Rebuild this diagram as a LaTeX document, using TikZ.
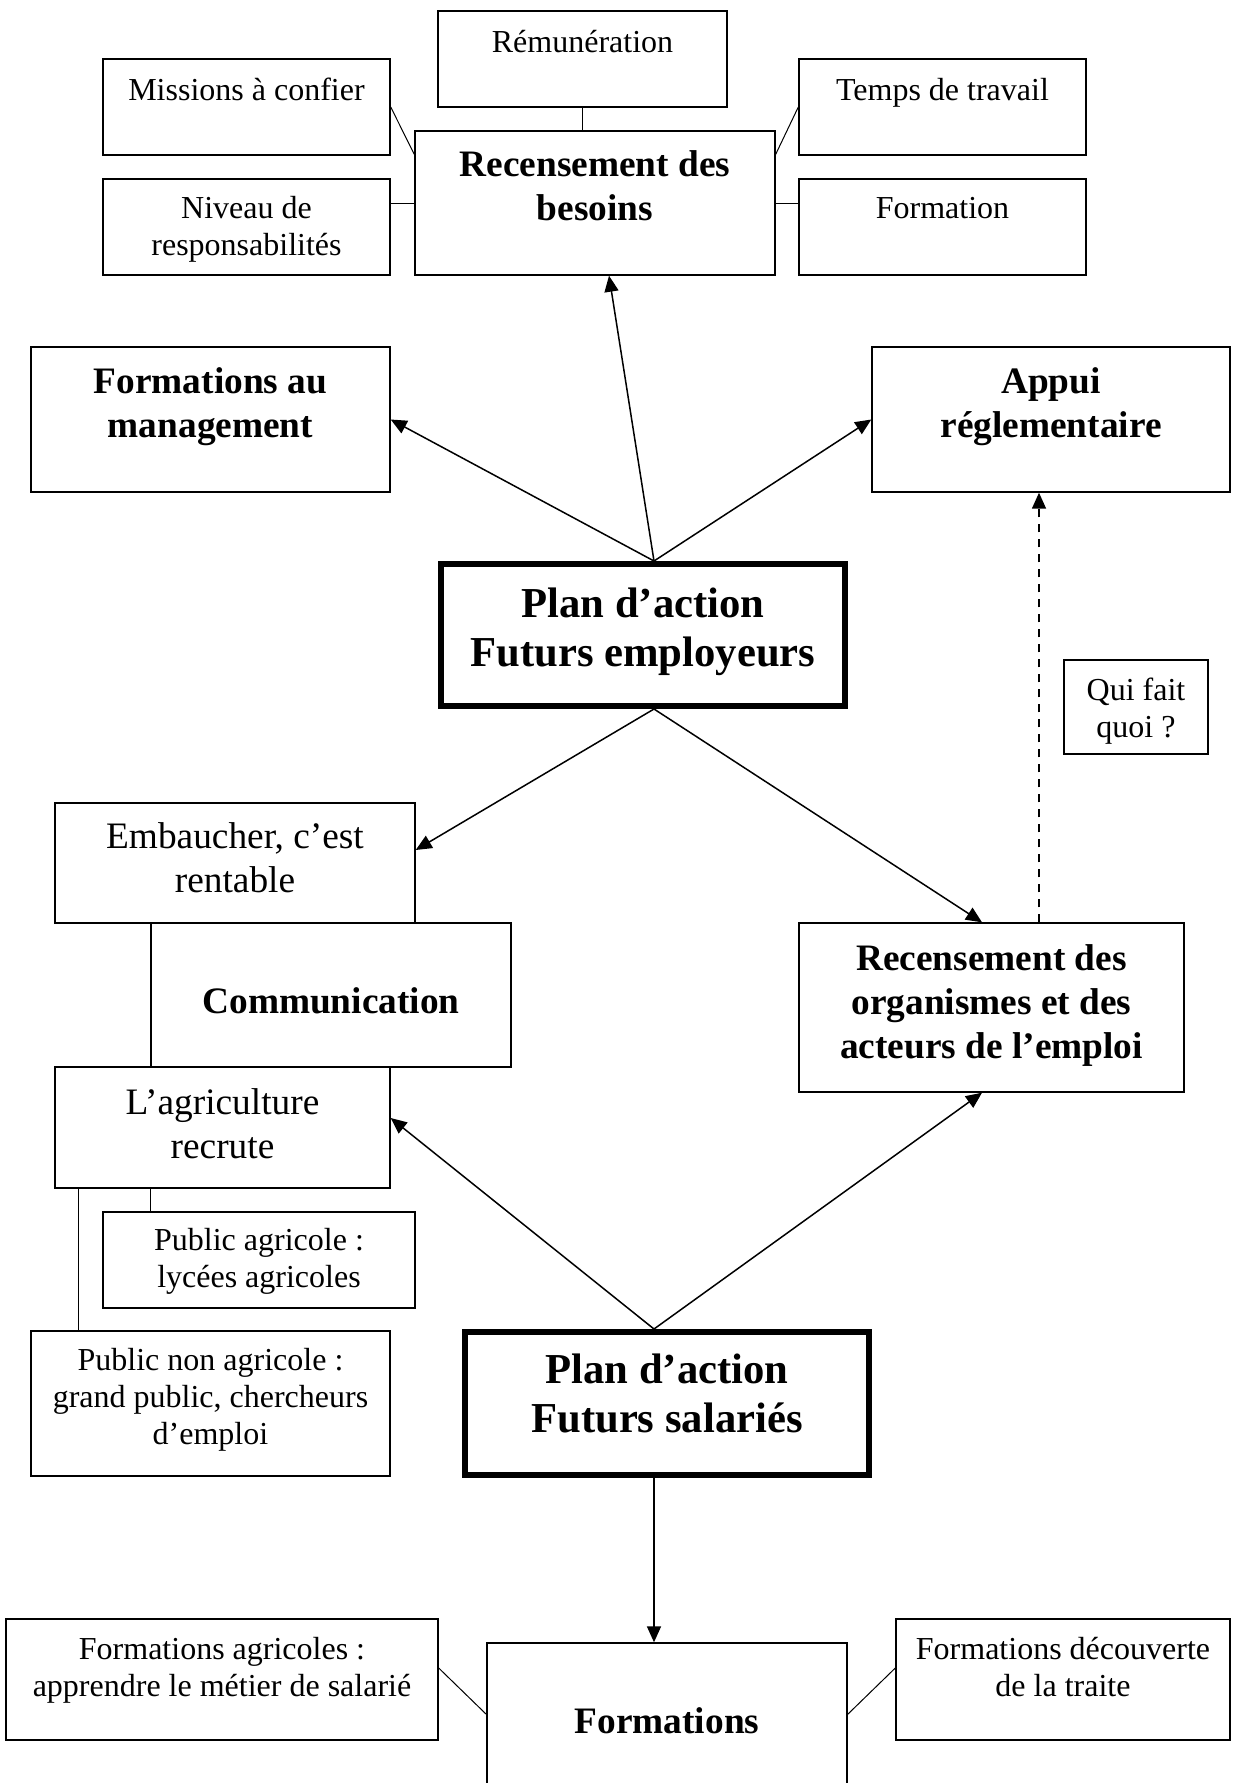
\documentclass[tikz,border=0pt]{standalone}
\usepackage{fontspec}
\setmainfont{Liberation Serif}
\usetikzlibrary{fit,arrows.meta}
\tikzset{
  bx/.style={draw, line width=0.7pt, inner sep=0pt, rectangle},
  pbx/.style={draw, line width=3pt, inner sep=0pt, rectangle},
  tS/.style={anchor=north, inner sep=0pt, align=center, font=\fontsize{16}{18.6}\selectfont},
  tM/.style={anchor=north, inner sep=0pt, align=center, font=\fontsize{18.67}{22}\selectfont},
  tMb/.style={anchor=north, inner sep=0pt, align=center, font=\bfseries\fontsize{18.67}{22}\selectfont},
  tL/.style={anchor=north, inner sep=0pt, align=center, font=\bfseries\fontsize{21.33}{24.5}\selectfont},
  arr/.style={-{Triangle[length=8pt,width=7pt]}, line width=0.75pt},
  ln/.style={line width=0.5pt},
}
\begin{document}
\begin{tikzpicture}[x=0.5pt,y=-0.5pt]
\useasboundingbox (0,0) rectangle (1232,1783);
% boxes
\node[bx, fit={(438,11) (727,107)}] (rem) {};
\node[bx, fit={(103,59) (390,155)}] (miss) {};
\node[bx, fit={(799,59) (1086,155)}] (temps) {};
\node[bx, fit={(415,131) (775,275)}] (besoins) {};
\node[bx, fit={(103,179) (390,275)}] (niveau) {};
\node[bx, fit={(799,179) (1086,275)}] (formation) {};
\node[bx, fit={(31,347) (390,492)}] (mgmt) {};
\node[bx, fit={(872,347) (1230,492)}] (appui) {};
\node[pbx, fit={(441,564) (845,706)}] (planE) {};
\node[bx, fit={(1064,660) (1208,754)}] (qui) {};
\node[bx, fit={(55,803) (415,923)}] (emb) {};
\node[bx, fit={(151,923) (511,1067)}] (comm) {};
\node[bx, fit={(799,923) (1184,1092)}] (org) {};
\node[bx, fit={(55,1067) (390,1188)}] (agri) {};
\node[bx, fit={(103,1212) (415,1308)}] (pubagr) {};
\node[bx, fit={(31,1331) (390,1476)}] (pubnon) {};
\node[pbx, fit={(465,1332) (869,1475)}] (planS) {};
\node[bx, fit={(6,1619) (438,1740)}] (fagr) {};
\node[bx, fit={(896,1619) (1230,1740)}] (fdec) {};
\node[bx, fit={(487,1643) (847,1800)}] (forms) {};
% texts
\node[tS] (t-rem) at (582.5,26) {\strut Rémunération};
\node[tS] (t-miss) at (246.5,74) {\strut Missions à confier};
\node[tS] (t-temps) at (942.5,74) {\strut Temps de travail};
\node[tS] (t-niveau) at (246.5,192) {\strut Niveau de\\responsabilités};
\node[tS] (t-formation) at (942.5,192) {\strut Formation};
\node[tMb] (t-besoins) at (595,145) {\strut Recensement des\\besoins};
\node[tMb] (t-mgmt) at (210.5,362) {\strut Formations au\\management};
\node[tMb] (t-appui) at (1051,362) {\strut Appui\\réglementaire};
\node[tL] (t-planE) at (643,583) {\strut Plan d’action\\Futurs employeurs};
\node[tS] (t-qui) at (1136,674) {\strut Qui fait\\quoi ?};
\node[tM] (t-emb) at (235,817) {\strut Embaucher, c’est\\rentable};
\node[tMb] (t-comm) at (331,982) {\strut Communication};
\node[tMb] (t-org) at (991.5,939) {\strut Recensement des\\organismes et des\\acteurs de l’emploi};
\node[tM] (t-agri) at (222.5,1083) {\strut L’agriculture\\recrute};
\node[tS] (t-pubagr) at (259,1224) {\strut Public agricole :\\lycées agricoles};
\node[tS] (t-pubnon) at (210.5,1344) {\strut Public non agricole :\\grand public, chercheurs\\d’emploi};
\node[tL] (t-planS) at (667,1349) {\strut Plan d’action\\Futurs salariés};
\node[tS] (t-fagr) at (222,1633) {\strut Formations agricoles :\\apprendre le métier de salarié};
\node[tS] (t-fdec) at (1063,1633) {\strut Formations découverte\\de la traite};
\node[tMb] (t-forms) at (667,1702) {\strut Formations};
% plain connectors
\draw[ln] (miss.east) -- ([yshift=-12pt]besoins.north west);
\draw[ln] (temps.west) -- ([yshift=-12pt]besoins.north east);
\draw[ln] (besoins.west) -- (besoins.west -| niveau.east);
\draw[ln] (besoins.east) -- (besoins.east -| formation.west);
\draw[ln] (rem.south) -- (rem.south |- besoins.north);
\draw[ln] (agri.south -| comm.west) -- (pubagr.north -| comm.west);
\coordinate (c1) at ([xshift=12pt]agri.south west);
\draw[ln] (c1) -- (c1 |- pubnon.north);
\draw[ln] ([yshift=5.75pt]fagr.east) -- ([yshift=-36pt]forms.north west);
\draw[ln] ([yshift=5.75pt]fdec.west) -- ([yshift=-36pt]forms.north east);
% arrows
\draw[arr] ([xshift=5.5pt]planE.north) -- ([xshift=7pt]besoins.south);
\draw[arr] ([xshift=5.5pt]planE.north) -- (mgmt.east);
\draw[arr] ([xshift=5.5pt]planE.north) -- (appui.west);
\draw[arr] ([xshift=5.5pt]planE.south) -- ([yshift=6.5pt]emb.east);
\draw[arr] ([xshift=5.5pt]planE.south) -- ([xshift=-4.75pt]org.north);
\draw[arr, dash pattern=on 4pt off 3.5pt] ([xshift=23.75pt]org.north) -- ([xshift=-6pt]appui.south);
\draw[arr] ([xshift=-6.5pt]planS.north) -- ([yshift=4.75pt]agri.east);
\draw[arr] ([xshift=-6.5pt]planS.north) -- ([xshift=-4.75pt]org.south);
\draw[arr] ([xshift=-6.5pt]planS.south) -- ([xshift=-6.5pt]forms.north);
\end{tikzpicture}
\end{document}
